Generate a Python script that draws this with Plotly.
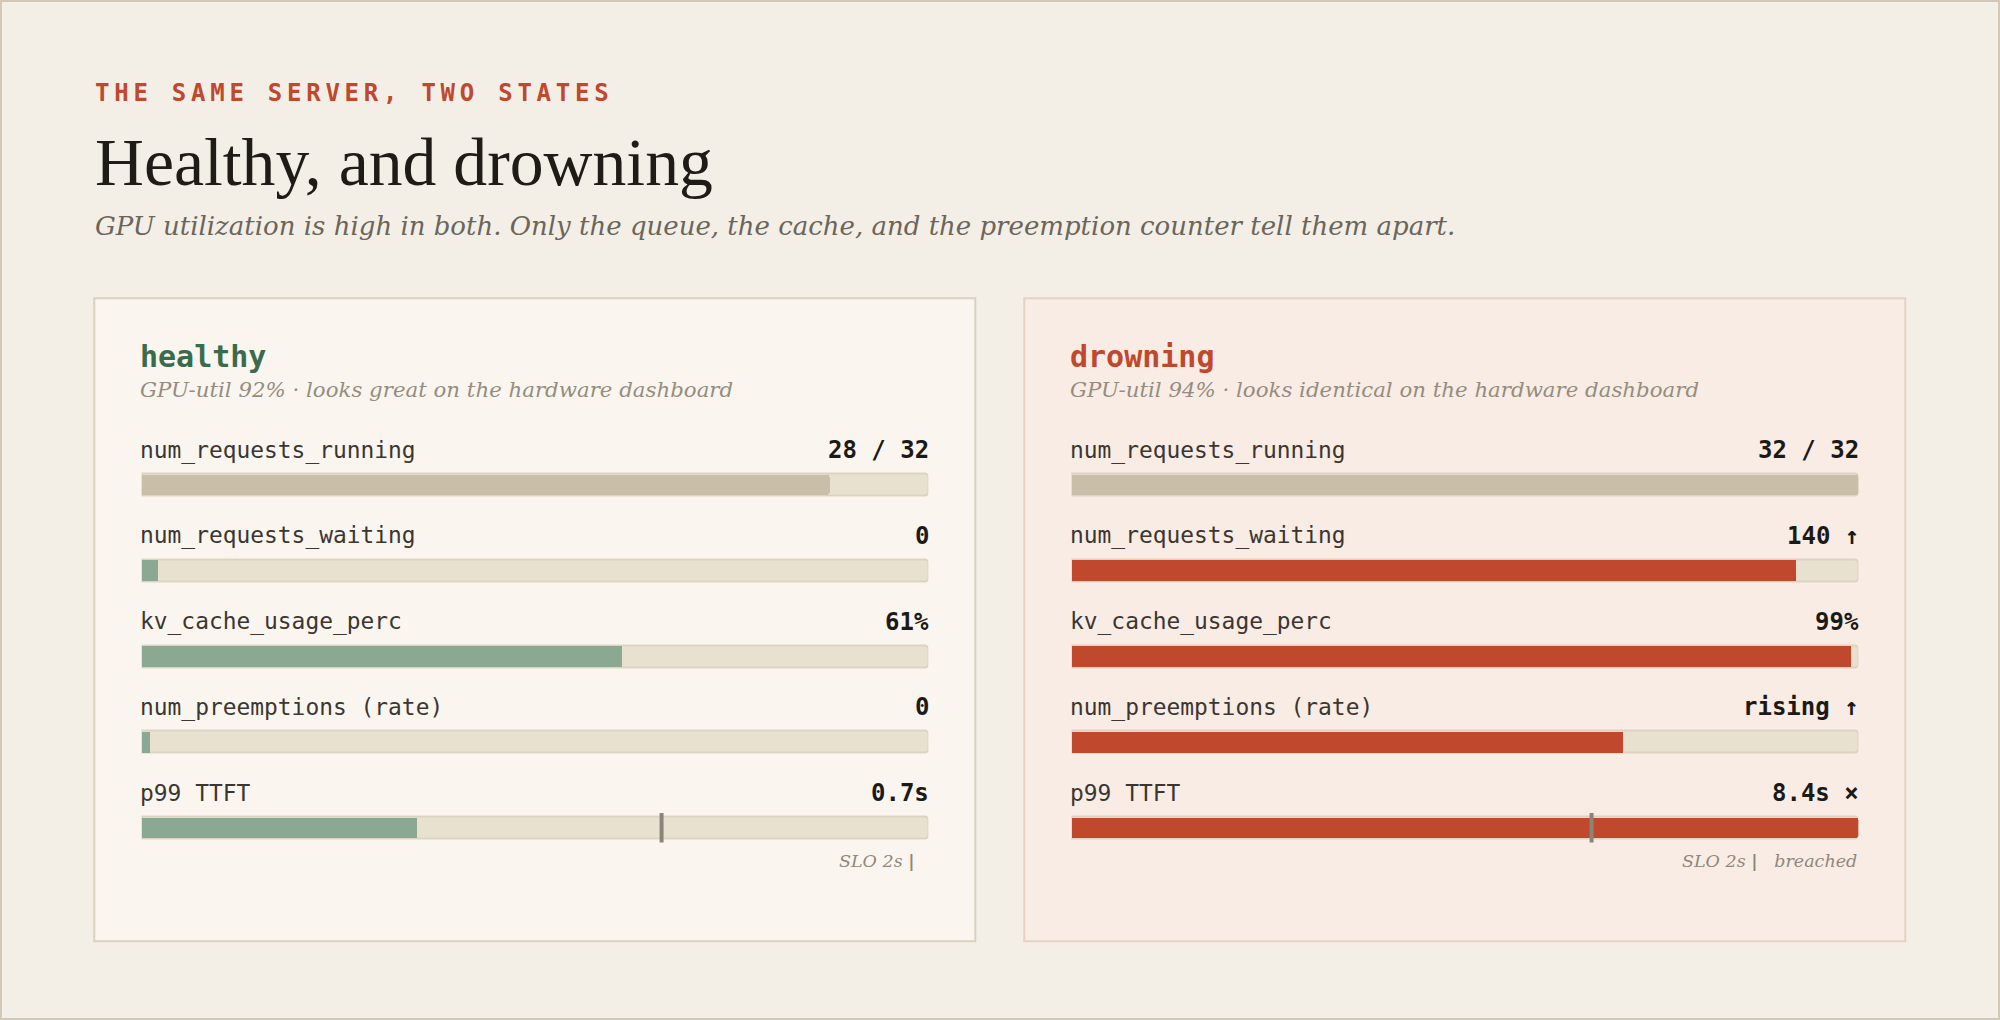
import plotly.graph_objects as go

# ---------------- data ----------------
eyebrow = "THE SAME SERVER, TWO STATES"
title = "Healthy, and drowning"
subtitle = ("GPU utilization is high in both. Only the queue, the cache, "
            "and the preemption counter tell them apart.")

metric_labels = ["num_requests_running", "num_requests_waiting",
                 "kv_cache_usage_perc", "num_preemptions (rate)", "p99 TTFT"]

healthy_name = "healthy"
healthy_note = "GPU-util 92% · looks great on the hardware dashboard"
healthy_fill = [0.875, 0.02, 0.61, 0.01, 0.35]
healthy_values = ["28 / 32", "0", "61%", "0", "0.7s"]

drowning_name = "drowning"
drowning_note = "GPU-util 94% · looks identical on the hardware dashboard"
drowning_fill = [1.0, 0.92, 0.99, 0.70, 1.0]
drowning_values = ["32 / 32", "140 ↑", "99%", "rising ↑", "8.4s ×"]

slo_position = 0.661
slo_label = "SLO 2s"
drowning_verdict = "breached"

# ---------------- style ----------------
PAGE_BG = "#f3efe7"
OUTER_BORDER = "#d3c8b5"
RED = "#c0482d"
GREEN_TXT = "#3b6b4b"
TAN = "#c9bea8"
GREEN = "#8ba892"
TRACK = "#e9e1d0"
TRACK_LINE = "#ddd3c2"
MARK = "#8a857a"
MONO = "DejaVu Sans Mono"
SERIF = "Liberation Serif"
SERIF_IT = "DejaVu Serif"

W, H = 2000, 1020
rows = list(range(len(metric_labels)))

fig = go.Figure()

slo_tick = ' <span style="color:%s"><b>|</b></span>' % MARK
panels = [
    dict(name=healthy_name, note=healthy_note, fill=healthy_fill, values=healthy_values,
         colors=[TAN] + [GREEN] * 4, title_color=GREEN_TXT, bg="#faf6ef", border="#dbd1c1",
         box=(94.3, 298.3, 975.3, 941.3), axis=("x", "y"), dom=(141.5, 928.3),
         slo_text=slo_label + slo_tick, slo_shift=-11),
    dict(name=drowning_name, note=drowning_note, fill=drowning_fill, values=drowning_values,
         colors=[TAN] + [RED] * 4, title_color=RED, bg="#f9ece4", border="#e6d1c4",
         box=(1024.3, 298.3, 1905.3, 941.3), axis=("x2", "y2"), dom=(1071.5, 1858.3),
         slo_text=slo_label + slo_tick + "   " + drowning_verdict, slo_shift=1),
]

shapes = [dict(type="rect", xref="paper", yref="paper", x0=0.0005, x1=0.9995, y0=0.001, y1=0.999,
               line=dict(color=OUTER_BORDER, width=2), fillcolor=PAGE_BG, layer="below")]
annotations = []

def px(xp):
    return xp / W

def py(yp):
    return 1 - yp / H

# header
annotations.append(dict(xref="paper", yref="paper", x=px(93), y=py(93), xanchor="left", yanchor="middle",
                        showarrow=False,
                        text='<span style="letter-spacing:4.75px">' + eyebrow + '</span>',
                        font=dict(family=MONO, size=24, color=RED, weight="bold")))
annotations.append(dict(xref="paper", yref="paper", x=px(92.5), y=py(162), xanchor="left", yanchor="middle",
                        showarrow=False, text=title,
                        font=dict(family=SERIF, size=67.7, color="#1f1c18")))
annotations.append(dict(xref="paper", yref="paper", x=px(93), y=py(226), xanchor="left", yanchor="middle",
                        showarrow=False, text=subtitle,
                        font=dict(family=SERIF_IT, size=26, color="#6b655a", style="italic")))

row_center_top = 484.5
row_center_bot = 827.7
step = (row_center_bot - row_center_top) / 4
y_top = row_center_top - step / 2
y_bot = row_center_bot + step / 2

layout_axes = {}
for i, p in enumerate(panels):
    xa, ya = p["axis"]
    x0, y0, x1, y1 = p["box"]
    shapes.append(dict(type="rect", xref="paper", yref="paper", x0=px(x0), x1=px(x1), y0=py(y1), y1=py(y0),
                       fillcolor=p["bg"], line=dict(color=p["border"], width=2), layer="below"))
    # track
    fig.add_trace(go.Bar(x=[1] * len(rows), y=rows, orientation="h", width=0.2564,
                         marker=dict(color=TRACK, line=dict(color=TRACK_LINE, width=2), cornerradius=4),
                         xaxis=xa, yaxis=ya, hoverinfo="skip", showlegend=False))
    # fill
    fig.add_trace(go.Bar(x=p["fill"], y=rows, orientation="h", width=0.24,
                         marker=dict(color=p["colors"], line=dict(width=0), cornerradius=2),
                         xaxis=xa, yaxis=ya, hoverinfo="skip", showlegend=False))
    # SLO marker on last row
    fig.add_trace(go.Scatter(x=[slo_position], y=[rows[-1]], mode="markers",
                             marker=dict(symbol="line-ns", size=21, line=dict(color=MARK, width=4)),
                             xaxis=xa, yaxis=ya, hoverinfo="skip", showlegend=False))
    d0, d1 = p["dom"]
    kx = "xaxis" if i == 0 else "xaxis2"
    ky = "yaxis" if i == 0 else "yaxis2"
    layout_axes[kx] = dict(domain=[px(d0), px(d1)], range=[0, 1], visible=False, fixedrange=True)
    layout_axes[ky] = dict(domain=[py(y_bot), py(y_top)], range=[4.5, -0.5], visible=False, fixedrange=True)
    if i == 1:
        layout_axes[ky]["anchor"] = "x2"
        layout_axes[kx]["anchor"] = "y2"

    # panel title and note
    annotations.append(dict(xref="paper", yref="paper", x=px(x0 + 44), y=py(356), xanchor="left",
                            yanchor="middle", showarrow=False, text=p["name"],
                            font=dict(family=MONO, size=30, color=p["title_color"], weight="bold")))
    annotations.append(dict(xref="paper", yref="paper", x=px(x0 + 44), y=py(389), xanchor="left",
                            yanchor="middle", showarrow=False, text=p["note"],
                            font=dict(family=SERIF_IT, size=21.3, color="#958d7f", style="italic")))
    for r, lab, val in zip(rows, metric_labels, p["values"]):
        annotations.append(dict(xref=xa, yref=ya, x=0, y=r, xanchor="left", yanchor="middle",
                                yshift=34.5, xshift=-3.5, showarrow=False, text=lab,
                                font=dict(family=MONO, size=22.9, color="#3b3631")))
        annotations.append(dict(xref=xa, yref=ya, x=1, y=r, xanchor="right", yanchor="middle",
                                yshift=34.5, xshift=2.5, showarrow=False, text=val,
                                font=dict(family=MONO, size=24, color="#1c1a17", weight="bold")))
    annotations.append(dict(xref=xa, yref=ya, x=1, y=rows[-1], xanchor="right", yanchor="middle",
                            yshift=-33, xshift=p["slo_shift"], showarrow=False, text=p["slo_text"],
                            font=dict(family=SERIF_IT, size=17.5, color="#8f887b", style="italic")))

fig.update_layout(width=W, height=H, margin=dict(l=0, r=0, t=0, b=0),
                  paper_bgcolor=PAGE_BG, plot_bgcolor="rgba(0,0,0,0)",
                  barmode="overlay", bargap=0, shapes=shapes, annotations=annotations,
                  **layout_axes)

fig.write_html("out.html", config={"displayModeBar": False})
